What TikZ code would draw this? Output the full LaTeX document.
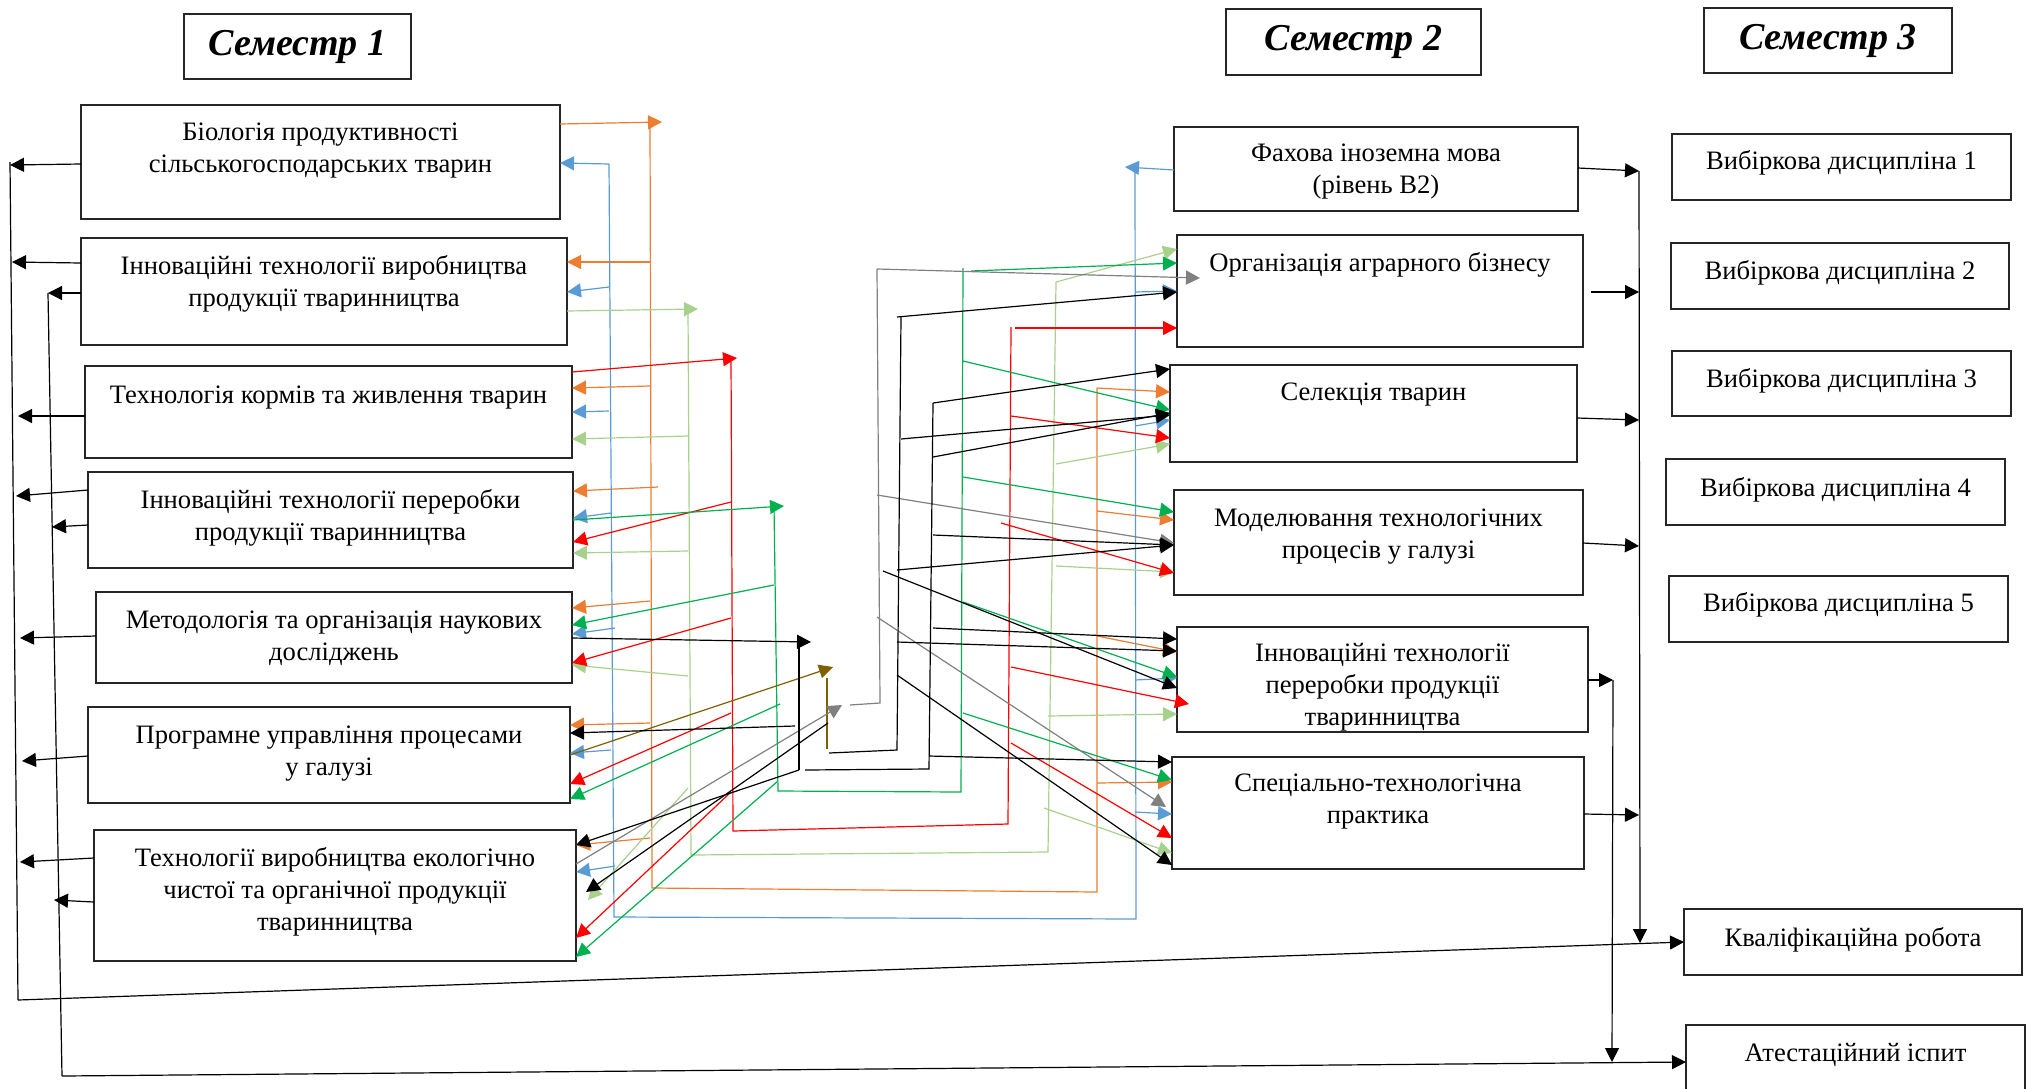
\documentclass[tikz,border=0pt]{standalone}
\usepackage{fontspec}
\setmainfont{Liberation Serif}
\usetikzlibrary{arrows.meta,calc}
\definecolor{cOr}{HTML}{ED7D31}
\definecolor{cBl}{HTML}{5B9BD5}
\definecolor{cLg}{HTML}{A9D18E}
\definecolor{cRd}{HTML}{FF0000}
\definecolor{cGn}{HTML}{00B050}
\definecolor{cGy}{HTML}{808080}
\definecolor{cBr}{HTML}{7F6000}
\newcommand\mybox[7]{%
  \pgfmathsetmacro\bw{(#4-#2)*0.5}%
  \pgfmathsetmacro\bh{(#5-#3)*0.5}%
  \pgfmathsetmacro\bp{#6*0.5-6.8}%
  \node[boxst, minimum width=\bw pt, minimum height=\bh pt, anchor=north west] (#1) at (#2,#3)
    {\parbox[c][\bh pt][t]{\bw pt}{\centering\vspace*{\bp pt}\strut#7\par}};
}
\begin{document}
\begin{tikzpicture}[x=0.5pt,y=-0.5pt,
  boxst/.style={draw=black!85, line width=0.75pt, inner sep=0pt, outer sep=0pt, font=\fontsize{13.3}{16}\selectfont},
  hdr/.style={draw=black!85, line width=0.75pt, inner sep=0pt, outer sep=0pt, anchor=north west, font=\fontsize{19}{22}\selectfont\bfseries\itshape},
  arr/.style={-{Triangle[length=7pt,width=7pt]}},
  sOr/.style={cOr, line width=0.6pt},
  sBl/.style={cBl, line width=0.6pt},
  sLg/.style={cLg, line width=0.6pt},
  sRd/.style={cRd, line width=0.6pt},
  sGn/.style={cGn, line width=0.6pt},
  sGy/.style={cGy, line width=0.6pt},
  sBr/.style={cBr, line width=0.6pt},
  sBk/.style={black, line width=0.6pt}]
\useasboundingbox (0,0) rectangle (2028,1088);

% headers
\node[hdr, minimum width=113.5pt, minimum height=32.5pt] (S1) at (184,14) {Семестр 1};
\node[hdr, minimum width=127.5pt, minimum height=33pt] (S2) at (1226,9) {Семестр 2};
\node[hdr, minimum width=124pt, minimum height=32.5pt] (S3) at (1704,8) {Семестр 3};

% semester 1
\mybox{L1}{81}{105}{560}{219}{27}{Біологія продуктивності\\сільськогосподарських тварин}
\mybox{L2}{81}{238}{567}{345}{28}{Інноваційні технології виробництва\\продукції тваринництва}
\mybox{L3}{85}{366}{572}{458}{29}{Технологія кормів та живлення тварин}
\mybox{L4}{88}{472}{573}{568}{28}{Інноваційні технології переробки\\продукції тваринництва}
\mybox{L5}{96}{592}{572}{683}{28}{Методологія та організація наукових\\досліджень}
\mybox{L6}{88}{707}{570}{803}{28}{Програмне управління процесами\\у галузі}
\mybox{L7}{94}{830}{576}{961}{28}{Технології виробництва екологічно\\чистої та органічної продукції\\тваринництва}

% semester 2
\mybox{M1}{1174}{127}{1578}{211}{26}{Фахова іноземна мова\\(рівень B2)}
\mybox{M2}{1177}{235}{1583}{347}{28}{Організація аграрного бізнесу}
\mybox{M3}{1170}{365}{1577}{462}{27}{Селекція тварин}
\mybox{M4}{1174}{490}{1583}{595}{28}{Моделювання технологічних\\процесів у галузі}
\mybox{M5}{1177}{627}{1588}{732}{26}{Інноваційні технології\\переробки продукції\\тваринництва}
\mybox{M6}{1172}{757}{1584}{869}{26}{Спеціально-технологічна\\практика}

% semester 3
\mybox{R1}{1672}{134}{2011}{200}{27}{Вибіркова дисципліна 1}
\mybox{R2}{1671}{243}{2009}{309}{28}{Вибіркова дисципліна 2}
\mybox{R3}{1672}{351}{2011}{416}{28}{Вибіркова дисципліна 3}
\mybox{R4}{1666}{459}{2005}{525}{29}{Вибіркова дисципліна 4}
\mybox{R5}{1669}{576}{2008}{642}{27}{Вибіркова дисципліна 5}
\mybox{R6}{1684}{909}{2022}{975}{29}{Кваліфікаційна робота}
\mybox{R7}{1686}{1025}{2025}{1100}{28}{Атестаційний іспит}

% ---------- bus coordinates
\coordinate (oA) at (650,122); \coordinate (oB) at (652,888);
\coordinate (oC) at (1097,892); \coordinate (oD) at (1097,388);
\coordinate (bA) at (609,164); \coordinate (bB) at (614,917);
\coordinate (bC) at (1136,919); \coordinate (bD) at (1135,167);
\coordinate (gA) at (688,309); \coordinate (gB) at (691,855);
\coordinate (gC) at (1048,852); \coordinate (gD) at (1056,282);
\coordinate (rA) at (731,358); \coordinate (rB) at (733,831);
\coordinate (rC) at (1008,824); \coordinate (rD) at (1011,327);
\coordinate (nA) at (774,506); \coordinate (nB) at (778,791);
\coordinate (nC) at (961,792); \coordinate (nD) at (963,268);
\coordinate (kA) at (799,642); \coordinate (kB) at (799,770);
\coordinate (kC) at (929,769); \coordinate (kD) at (933,403);
\coordinate (jA) at (901,317); \coordinate (jB) at (897,750);
\coordinate (jC) at (829,753); \coordinate (jE) at (828,723);
\coordinate (jF) at (883,571);
\coordinate (yA) at (877,269); \coordinate (yB) at (880,703);
\coordinate (yT) at (842,705);
\coordinate (wT) at (833,667); \coordinate (wA) at (827,678); \coordinate (wB) at (827,749);
\coordinate (e1t) at (10,162); \coordinate (e1b) at (18,1000);
\coordinate (e2t) at (48,293); \coordinate (e2b) at (62,1076);
\coordinate (vA) at (1639,171); \coordinate (vAb) at (1640,943);
\coordinate (vB) at (1613,680); \coordinate (vBb) at (1612,1062);

% ---------- orange
\draw[sOr,arr] (L1.east |- 0,124) -- ([xshift=6pt]oA);
\draw[sOr] (oA) -- (oB) -- (oC) -- (oD);
\draw[sOr,arr] (oA |- 0,262) -- (L2.east |- 0,262);
\draw[sOr,arr] (oA |- 0,386) -- (L3.east |- 0,388);
\draw[sOr,arr] ([xshift=4pt]oA |- 0,487) -- (L4.east |- 0,491);
\draw[sOr,arr] (oA |- 0,601) -- (L5.east |- 0,608);
\draw[sOr,arr] (oA |- 0,723) -- (L6.east |- 0,725);
\draw[sOr,arr] (oA |- 0,838) -- (L7.east |- 0,845);
\draw[sOr,arr] (oD |- 0,388) -- (M3.west |- 0,392);
\draw[sOr,arr] (oD |- 0,511) -- (M4.west |- 0,520);
\draw[sOr,arr] (oD |- 0,636) -- (M5.west |- 0,652);
\draw[sOr,arr] (oD |- 0,783) -- (M6.west |- 0,782);

% ---------- blue
\draw[sBl] (bA) -- (bB) -- (bC) -- (bD);
\draw[sBl,arr] (M1.west |- 0,170) -- ([xshift=-5pt]bD);
\draw[sBl,arr] (bA |- 0,164) -- (L1.east |- 0,163);
\draw[sBl,arr] (bA |- 0,287) -- (L2.east |- 0,292);
\draw[sBl,arr] (bA |- 0,411) -- (L3.east |- 0,412);
\draw[sBl,arr] ([xshift=1pt]bA |- 0,513) -- (L4.east |- 0,518);
\draw[sBl,arr] ([xshift=3pt]bA |- 0,628) -- (L5.east |- 0,634);
\draw[sBl,arr] ([xshift=1pt]bA |- 0,750) -- (L6.east |- 0,753);
\draw[sBl,arr] ([xshift=3pt]bA |- 0,866) -- (L7.east |- 0,872);
\draw[sBl,arr] (bD |- 0,292) -- (M2.west |- 0,291);
\draw[sBl,arr] (bD |- 0,426) -- (M3.west |- 0,420);
\draw[sBl,arr] (bD |- 0,680) -- (M5.west |- 0,678);
\draw[sBl,arr] (bD |- 0,812) -- (M6.west |- 0,814);

% ---------- light green
\draw[sLg,arr] (L2.east |- 0,311) -- ([xshift=5pt]gA);
\draw[sLg] (gA) -- (gB) -- (gC) -- (gD);
\draw[sLg,arr] (gA |- 0,436) -- (L3.east |- 0,439);
\draw[sLg,arr] (gA |- 0,551) -- (L4.east |- 0,553);
\draw[sLg,arr] (gA |- 0,676) -- (L5.east |- 0,665);
\draw[sLg,arr] (gA |- 0,788) -- ([xshift=6pt]L7.east |- 0,900);
\draw[sLg,arr] (gD |- 0,282) -- (M2.west |- 0,249);
\draw[sLg,arr] (gD |- 0,464) -- (M3.west |- 0,444);
\draw[sLg,arr] (gD |- 0,566) -- (M4.west |- 0,572);
\draw[sLg,arr] (gC |- 0,716) -- (M5.west |- 0,714);
\draw[sLg,arr] ([xshift=-2pt]gC |- 0,808) -- (M6.west |- 0,853);

% ---------- red
\draw[sRd,arr] (L3.east |- 0,372) -- ([xshift=3pt]rA);
\draw[sRd] (rA) -- (rB) -- (rC) -- (rD);
\draw[sRd,arr] (rA |- 0,502) -- (L4.east |- 0,542);
\draw[sRd,arr] (rA |- 0,618) -- (L5.east |- 0,663);
\draw[sRd,arr] (rA |- 0,713) -- (L6.east |- 0,784);
\draw[sRd,arr] (rA |- 0,792) -- (L7.east |- 0,938);
\draw[sRd,arr] ([xshift=2pt]rD |- 0,328) -- (M2.west |- 0,328);
\draw[sRd,arr] (rD |- 0,416) -- (M3.west |- 0,438);
\draw[sRd,arr] ([xshift=-5pt]rD |- 0,523) -- (M4.west |- 0,573);
\draw[sRd,arr] (rD |- 0,667) -- ([xshift=6pt]M5.west |- 0,704);
\draw[sRd,arr] (rD |- 0,743) -- (M6.west |- 0,838);

% ---------- dark green
\draw[sGn,arr] (L4.east |- 0,520) -- ([xshift=5pt]nA);
\draw[sGn] (nA) -- (nB) -- (nC) -- (nD);
\draw[sGn,arr] (nA |- 0,585) -- (L5.east |- 0,625);
\draw[sGn,arr] ([xshift=3pt]nA |- 0,704) -- (L6.east |- 0,799);
\draw[sGn,arr] ([xshift=2pt]nA |- 0,781) -- (L7.east |- 0,957);
\draw[sGn,arr] ([xshift=4pt]nD |- 0,271) -- (M2.west |- 0,263);
\draw[sGn,arr] (nD |- 0,361) -- (M3.west |- 0,410);
\draw[sGn,arr] (nD |- 0,477) -- (M4.west |- 0,512);
\draw[sGn,arr] (nD |- 0,602) -- (M5.west |- 0,677);
\draw[sGn,arr] (nD |- 0,713) -- (M6.west |- 0,780);

% ---------- brown
\draw[sBr,arr] (L6.east |- 0,755) -- (wT);
\draw[sBr] (wA) -- (wB);

% ---------- gray
\draw[sGy,arr] (L7.east |- 0,864) -- (yT);
\draw[sGy] ([xshift=4pt]yT) -- (yB) -- (yA);
\draw[sGy,arr] (yA) -- ($(M2.west |- 0,278)+(23,0)$);
\draw[sGy,arr] (yA |- 0,495) -- (M4.west |- 0,543);
\draw[sGy,arr] (yA |- 0,617) -- ($(M6.west |- 0,807)+(-6,0)$);

% ---------- black system A
\draw[sBk,arr] (L5.east |- 0,638) -- ([xshift=6pt]kA);
\draw[sBk] (kA) -- (kB);
\draw[sBk,arr] (kB) -- (L7.east |- 0,845);
\draw[sBk,arr] ([xshift=-2pt]kA |- 0,726) -- (L6.east |- 0,733);
\draw[sBk] ([xshift=3pt]kB) -- (kC) -- (kD);
\draw[sBk,arr] (kD) -- (M3.west |- 0,369);
\draw[sBk,arr] (kD |- 0,457) -- (M3.west |- 0,413);
\draw[sBk,arr] (kD |- 0,535) -- (M4.west |- 0,545);
\draw[sBk,arr] (kD |- 0,628) -- (M5.west |- 0,639);
\draw[sBk,arr] (kC |- 0,756) -- (M6.west |- 0,762);

% ---------- black system B
\draw[sBk] (jA) -- (jB) -- (jC);
\draw[sBk,arr] (jE) -- ([xshift=5pt]L7.east |- 0,892);
\draw[sBk,arr] ([xshift=-2pt]jA) -- (M2.west |- 0,292);
\draw[sBk,arr] (jA |- 0,439) -- (M3.west |- 0,415);
\draw[sBk,arr] (jB |- 0,570) -- (M4.west |- 0,545);
\draw[sBk,arr] (jB |- 0,642) -- (M5.west |- 0,651);
\draw[sBk,arr] (jB |- 0,675) -- (M6.west |- 0,865);
\draw[sBk,arr] (jF) -- (M5.west |- 0,688);

% ---------- right side
\draw[sBk,arr] (M1.east |- 0,168) -- (vA);
\draw[sBk,arr] ([xshift=4pt]M2.east |- 0,292) -- (vA |- 0,292);
\draw[sBk,arr] (M3.east |- 0,418) -- (vA |- 0,420);
\draw[sBk,arr] (M4.east |- 0,543) -- (vA |- 0,546);
\draw[sBk,arr] (M6.east |- 0,814) -- (vA |- 0,815);
\draw[sBk,arr] (vA) -- (vAb);
\draw[sBk,arr] (M5.east |- 0,680) -- (vB);
\draw[sBk,arr] (vB) -- (vBb);

% ---------- left side
\draw[sBk] (e1t) -- (e1b);
\draw[sBk] (e2t) -- (e2b);
\draw[sBk,arr] (e1b) -- (R6.west |- 0,942);
\draw[sBk,arr] (e2b) -- (R7.west |- 0,1062);
\draw[sBk,arr] (L1.west |- 0,164) -- (e1t |- 0,165);
\draw[sBk,arr] (L2.west |- 0,263) -- ([xshift=1pt]e1t |- 0,262);
\draw[sBk,arr] (L2.west |- 0,293) -- (e2t);
\draw[sBk,arr] (L3.west |- 0,416) -- ([xshift=4pt]e1t |- 0,416);
\draw[sBk,arr] (L4.west |- 0,490) -- ([xshift=3pt]e1t |- 0,496);
\draw[sBk,arr] (L4.west |- 0,525) -- ([xshift=2pt]e2t |- 0,527);
\draw[sBk,arr] (L5.west |- 0,636) -- ([xshift=5pt]e1t |- 0,638);
\draw[sBk,arr] (L6.west |- 0,756) -- ([xshift=6pt]e1t |- 0,761);
\draw[sBk,arr] (L7.west |- 0,858) -- ([xshift=5pt]e1t |- 0,862);
\draw[sBk,arr] (L7.west |- 0,902) -- ([xshift=3pt]e2t |- 0,900);
\end{tikzpicture}
\end{document}
